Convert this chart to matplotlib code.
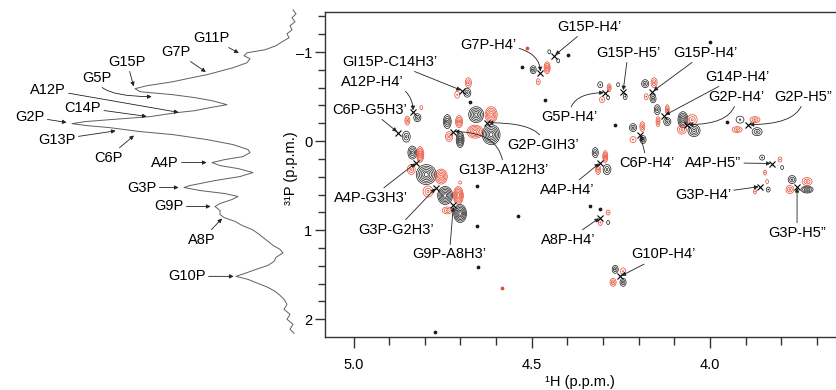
import matplotlib.pyplot as plt
from matplotlib.patches import Ellipse
import numpy as np

plt.rcParams['font.family'] = ['Liberation Sans', 'DejaVu Sans']

# ---- 1D 31P trace (chemical shift in ppm, intensity in a.u.) ----
spec_ppm = [-1.474, -1.429, -1.385, -1.340, -1.295, -1.250, -1.205, -1.160, -1.115,
            -1.071, -1.026, -0.992, -0.959, -0.925, -0.880, -0.824, -0.779, -0.746,
            -0.701, -0.667, -0.622, -0.589, -0.555, -0.521, -0.488, -0.454, -0.409,
            -0.376, -0.342, -0.320, -0.275, -0.241, -0.219, -0.196, -0.174, -0.151,
            -0.107, -0.073, -0.017, 0.039, 0.095, 0.129, 0.174, 0.207, 0.241, 0.275,
            0.308, 0.353, 0.398, 0.443, 0.499, 0.521, 0.555, 0.589, 0.622, 0.656,
            0.701, 0.734, 0.779, 0.824, 0.858, 0.902, 0.947, 0.992, 1.037, 1.082,
            1.126, 1.171, 1.216, 1.256, 1.306, 1.351, 1.396, 1.441, 1.485, 1.519,
            1.553, 1.598, 1.643, 1.687, 1.732, 1.777, 1.833, 1.889, 1.945, 2.001,
            2.057, 2.113, 2.158]
spec_int = [7, 4, 8, 5, 10, 8, 13, 11, 18, 24, 35, 53, 56, 50, 53, 67, 82, 93,
            113, 127, 153, 165, 160, 127, 105, 88, 73, 90, 105, 123, 150, 190, 215,
            228, 213, 190, 160, 127, 93, 67, 52, 50, 57, 75, 88, 80, 62, 47, 60, 85,
            110, 116, 100, 75, 62, 68, 80, 85, 80, 80, 76, 65, 58, 48, 42, 37, 32,
            27, 20, 17, 24, 26, 32, 44, 55, 64, 52, 42, 32, 25, 20, 16, 13, 16, 10,
            13, 7, 10, 6]

peak_names = ['G11P', 'G7P', 'G15P', 'G5P', 'A12P', 'C14P', 'G2P', 'G13P', 'C6P',
              'A4P', 'G3P', 'G9P', 'A8P', 'G10P']
peak_ppm = [-0.981, -0.768, -0.600, -0.499, -0.320, -0.275, -0.207, -0.118, -0.073,
            0.241, 0.521, 0.734, 0.858, 1.519]
peak_int = [60, 93, 166, 147, 120, 152, 232, 183, 165, 92, 120, 88, 77, 65]

# ---- 2D 1H-31P cross peaks ----
xpk_names = ["G15P-H4’", "G7P-H4’", "GI15P-C14H3’", "A12P-H4’", "C6P-G5H3’",
             "G2P-GIH3’", "G13P-A12H3’", "A4P-G3H3’", "G3P-G2H3’", "G9P-A8H3’",
             "G5P-H4’", "G15P-H5’", "G15P-H4’", "G14P-H4’", "G2P-H4’", "G2P-H5”",
             "C6P-H4’", "A4P-H4’", "A4P-H5”", "G3P-H4’", "G3P-H5”", "A8P-H4’",
             "G10P-H4’"]
xpk_h = [4.437, 4.476, 4.695, 4.833, 4.875, 4.625, 4.720, 4.824, 4.768, 4.720,
         4.294, 4.244, 4.162, 4.129, 4.064, 3.893, 4.196, 4.308, 3.826, 3.860,
         3.756, 4.308, 4.252]
xpk_p = [-0.959, -0.768, -0.566, -0.331, -0.095, -0.207, -0.107, 0.241, 0.521,
         0.723, -0.544, -0.555, -0.555, -0.286, -0.185, -0.185, -0.073, 0.241,
         0.252, 0.510, 0.510, 0.858, 1.519]

# contour lobes: 1H, 31P, width (ppm), height (ppm), sign (+1 black / -1 red)
lobe_h = [4.451, 4.426,
          4.496, 4.457, 4.482,
          4.678, 4.681, 4.709,
          4.821, 4.849, 4.810,
          4.852,
          4.656, 4.614, 4.659, 4.614,
          4.737, 4.704, 4.732, 4.701,
          4.835, 4.813, 4.838, 4.796, 4.754, 4.791, 4.743, 4.706, 4.737, 4.701, 4.701,
          4.308, 4.283, 4.303, 4.286,
          4.258, 4.238,
          4.182, 4.157, 4.179, 4.160,
          4.148, 4.120, 4.120, 4.146,
          4.076, 4.050, 4.079, 4.045,
          3.916, 3.874, 3.924, 3.868,
          4.216, 4.190, 4.216, 4.188,
          4.322, 4.294, 4.314, 4.289,
          3.854, 3.804, 3.798, 3.846, 3.840,
          3.837, 3.874,
          3.770, 3.728, 3.776, 3.728,
          4.286, 4.308, 4.286,
          4.266, 4.244, 4.272, 4.244]
lobe_p = [-1.003, -0.902,
          -0.802, -0.824, -0.667,
          -0.656, -0.544, -0.521,
          -0.263, -0.230, -0.376,
          -0.050,
          -0.297, -0.297, -0.106, -0.073,
          -0.219, -0.219, -0.050, -0.017,
          0.129, 0.151, 0.319, 0.376, 0.398, 0.566, 0.611, 0.611, 0.779, 0.813, 0.465,
          -0.633, -0.600, -0.465, -0.488,
          -0.633, -0.499,
          -0.645, -0.656, -0.499, -0.476,
          -0.353, -0.353, -0.219, -0.219,
          -0.241, -0.241, -0.129, -0.118,
          -0.241, -0.241, -0.129, -0.106,
          -0.151, -0.163, -0.017, -0.017,
          0.129, 0.174, 0.319, 0.319,
          0.185, 0.207, 0.297, 0.353, 0.454,
          0.544, 0.566,
          0.432, 0.454, 0.544, 0.544,
          0.802, 0.914, 0.914,
          1.440, 1.463, 1.586, 1.586]
lobe_w = [0.008, 0.008,
          0.017, 0.017, 0.011,
          0.017, 0.020, 0.014,
          0.020, 0.014, 0.008,
          0.022,
          0.042, 0.034, 0.045, 0.050,
          0.022, 0.020, 0.020, 0.022,
          0.025, 0.020, 0.022, 0.056, 0.034, 0.028, 0.042, 0.028, 0.028, 0.036, 0.008,
          0.014, 0.011, 0.014, 0.008,
          0.008, 0.011,
          0.020, 0.017, 0.011, 0.017,
          0.017, 0.011, 0.020, 0.011,
          0.028, 0.028, 0.025, 0.034,
          0.022, 0.028, 0.028, 0.028,
          0.020, 0.014, 0.017, 0.017,
          0.017, 0.014, 0.014, 0.022,
          0.014, 0.011, 0.008, 0.008, 0.008,
          0.011, 0.008,
          0.022, 0.028, 0.022, 0.034,
          0.011, 0.011, 0.008,
          0.017, 0.014, 0.017, 0.017]
lobe_ht = [0.045, 0.045,
           0.090, 0.135, 0.067,
           0.112, 0.101, 0.078,
           0.090, 0.101, 0.045,
           0.123,
           0.179, 0.179, 0.146, 0.224,
           0.157, 0.135, 0.112, 0.179,
           0.146, 0.179, 0.112, 0.224, 0.168, 0.123, 0.202, 0.202, 0.078, 0.202, 0.034,
           0.067, 0.090, 0.067, 0.045,
           0.045, 0.067,
           0.090, 0.112, 0.067, 0.090,
           0.112, 0.112, 0.090, 0.112,
           0.179, 0.112, 0.101, 0.135,
           0.078, 0.067, 0.067, 0.090,
           0.090, 0.112, 0.067, 0.090,
           0.112, 0.135, 0.112, 0.112,
           0.056, 0.056, 0.045, 0.056, 0.045,
           0.056, 0.056,
           0.090, 0.090, 0.090, 0.078,
           0.056, 0.067, 0.045,
           0.090, 0.078, 0.090, 0.090]
lobe_sign = [1, 1,
             1, -1, -1,
             -1, 1, -1,
             1, -1, -1,
             1,
             1, -1, -1, 1,
             1, -1, -1, 1,
             1, -1, -1, 1, -1, -1, 1, -1, -1, 1, -1,
             1, -1, -1, 1,
             1, 1,
             1, -1, -1, 1,
             1, -1, 1, -1,
             1, -1, -1, 1,
             1, -1, -1, 1,
             1, -1, -1, 1,
             1, -1, -1, 1,
             1, -1, 1, -1, -1,
             1, -1,
             1, -1, -1, 1,
             -1, -1, 1,
             1, -1, -1, 1]

# isolated noise peaks
noise_h = [4.527, 4.398, 4.462, 4.266, 3.952, 4.000, 4.653, 4.538, 4.653, 4.650,
           4.583, 4.771, 4.513, 4.673, 4.336, 4.308]
noise_p = [-0.835, -0.970, -0.465, -0.185, -0.219, -1.115, 0.499, 0.846, 0.958,
           1.418, 1.653, 2.147, -1.048, -0.443, 0.734, 0.768]
noise_sign = [1, 1, 1, 1, 1, 1, 1, 1, 1, 1, -1, 1, -1, 1, 1, 1]

BLACK = '#1a1a1a'
RED = '#e8462e'
FS = 10.5

# label layout (pixel offsets from the annotated point)
peak_offsets = [(-29, 16), (-31, 21), (-7, 26), (-56, 19), (-132, 23), (-65, 9),
                (-38, 6), (-60, -9), (-27, -23), (-43, 0), (-38, 0), (-43, 0),
                (-21, -22), (-48, 0)]
peak_conn = {3: 'angle3,angleA=90,angleB=0'}

xpk_offsets = [(35, 29), (-52, 28), (-72, 29), (-41, 30), (-28, 23), (56, -22),
               (50, -38), (-45, -35), (-40, -42), (-4, -49), (-36, -24), (5, 39),
               (53, 39), (73, 39), (49, 28), (55, 28), (7, -28), (-33, -27),
               (-59, 1), (-57, -8), (0, -46), (-32, -22), (43, 22)]
xpk_conn = {1: 'angle3,angleA=0,angleB=90', 3: 'angle3,angleA=0,angleB=90',
            5: 'angle3,angleA=90,angleB=0', 6: 'angle3,angleA=90,angleB=0',
            10: 'angle3,angleA=90,angleB=0', 14: 'angle3,angleA=90,angleB=0',
            15: 'angle3,angleA=90,angleB=0'}

fig = plt.figure(figsize=(8.37, 3.9), dpi=100)
ax = fig.add_axes([325 / 837, 53 / 390, 512 / 837, 325 / 390])
ax1d = fig.add_axes([0, 53 / 390, 300 / 837, 325 / 390])

# ---- 1D spectrum panel ----
ax1d.plot(spec_int, spec_ppm, color='#606060', lw=0.7, clip_on=False)
ax1d.set_xlim(300, 0)
ax1d.set_ylim(2.2, -1.45)
ax1d.axis('off')
for i, name in enumerate(peak_names):
    ax1d.annotate(name, xy=(peak_int[i], peak_ppm[i]), xytext=peak_offsets[i],
                  textcoords='offset pixels', ha='center', va='center', fontsize=FS,
                  annotation_clip=False,
                  arrowprops=dict(arrowstyle='-|>', lw=0.6, color='#222222',
                                  mutation_scale=6, shrinkA=0, shrinkB=1,
                                  connectionstyle=peak_conn.get(i, 'arc3')))

# ---- 2D contour panel ----
for h, p, w, ht, s in zip(lobe_h, lobe_p, lobe_w, lobe_ht, lobe_sign):
    col = BLACK if s > 0 else RED
    size_px = max(w * 356.6, ht * 89.2)
    n = int(np.clip(round(size_px / 3.2), 1, 7))
    for sc in np.linspace(1, 0.2, n):
        ax.add_patch(Ellipse((h, p), w * sc, ht * sc, fill=False, ec=col, lw=0.5))

for h, p, s in zip(noise_h, noise_p, noise_sign):
    ax.plot(h, p, 'o', ms=1.7, color=BLACK if s > 0 else RED)

ax.plot(xpk_h, xpk_p, 'x', ms=4, mew=0.8, color='k')

for i, name in enumerate(xpk_names):
    ax.annotate(name, xy=(xpk_h[i], xpk_p[i]), xytext=xpk_offsets[i],
                textcoords='offset pixels', ha='center', va='center', fontsize=FS,
                annotation_clip=False,
                arrowprops=dict(arrowstyle='-|>', lw=0.6, color='#222222',
                                mutation_scale=6, shrinkA=0, shrinkB=1,
                                connectionstyle=xpk_conn.get(i, 'arc3')))

ax.set_xlim(5.08, 3.644)
ax.set_ylim(2.2, -1.45)
ax.set_xticks([5.0, 4.5, 4.0])
ax.set_xticklabels(['5.0', '4.5', '4.0'])
ax.set_xticks(np.arange(3.7, 5.05, 0.1), minor=True)
ax.set_yticks([-1, 0, 1, 2])
ax.set_yticklabels(['–1', '0', '1', '2'])
ax.set_yticks(np.arange(-1.4, 2.1, 0.2), minor=True)
ax.tick_params(which='both', direction='out', width=1, color='#333333',
               labelsize=FS, top=False, right=False)
ax.tick_params(axis='x', which='major', length=8, pad=7)
ax.tick_params(axis='x', which='minor', length=6)
ax.tick_params(axis='y', which='major', length=7, pad=2)
ax.tick_params(axis='y', which='minor', length=5)
ax.spines['right'].set_visible(False)
for sp in ['left', 'top', 'bottom']:
    ax.spines[sp].set_color('#333333')
    ax.spines[sp].set_linewidth(1)

ax.set_xlabel('¹H (p.p.m.)', fontsize=FS)
ax.xaxis.set_label_coords(0.498, -0.118)
ax.set_ylabel('³¹P (p.p.m.)', fontsize=FS)
ax.yaxis.set_label_coords(-0.052, 0.52)

fig.savefig('out.png', dpi=100)
